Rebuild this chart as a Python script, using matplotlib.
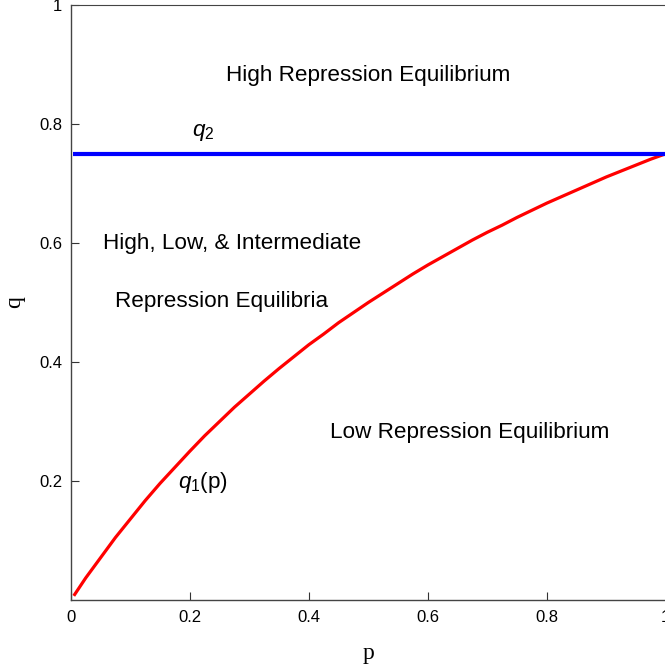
import numpy as np
import matplotlib.pyplot as plt

plt.rcParams['font.family'] = ['Liberation Sans', 'DejaVu Sans']
plt.rcParams['mathtext.fontset'] = 'custom'
plt.rcParams['mathtext.it'] = 'Liberation Sans:italic'
plt.rcParams['mathtext.rm'] = 'Liberation Sans'

# q1(p)
p_vals = [0.005, 0.025, 0.05, 0.075, 0.1, 0.125, 0.15, 0.175, 0.2, 0.225, 0.25,
          0.275, 0.3, 0.325, 0.35, 0.375, 0.4, 0.425, 0.45, 0.475, 0.5,
          0.525, 0.55, 0.575, 0.6, 0.625, 0.65, 0.675, 0.7, 0.725, 0.75,
          0.775, 0.8, 0.825, 0.85, 0.875, 0.9, 0.925, 0.95, 0.975, 1.0]
q1_vals = [0.007, 0.037, 0.071, 0.105, 0.136, 0.167, 0.196, 0.223, 0.25, 0.276, 0.30,
           0.324, 0.346, 0.368, 0.389, 0.409, 0.429, 0.447, 0.466, 0.483, 0.50,
           0.516, 0.532, 0.548, 0.563, 0.577, 0.591, 0.605, 0.618, 0.630, 0.643,
           0.655, 0.667, 0.678, 0.689, 0.700, 0.711, 0.721, 0.731, 0.741, 0.75]
q2_val = 0.75

x_ticks = [0, 0.2, 0.4, 0.6, 0.8, 1]
x_labels = ['0', '0.2', '0.4', '0.6', '0.8', '1']
y_ticks = [0.2, 0.4, 0.6, 0.8, 1]
y_labels = ['0.2', '0.4', '0.6', '0.8', '1']

fig = plt.figure(figsize=(6.65, 6.70), dpi=100)
ax = fig.add_axes([70.8 / 665, 70 / 670, 595 / 665, 595 / 670])

ax.plot(p_vals, q1_vals, color='#ff0000', lw=2.3, solid_capstyle='butt')
ax.plot([0.003, 1], [q2_val, q2_val], color='#0000ff', lw=3, solid_capstyle='butt')

ax.set_xlim(0, 1)
ax.set_ylim(0, 1)
ax.set_xticks(x_ticks, x_labels)
ax.set_yticks(y_ticks, y_labels)
ax.tick_params(direction='in', length=6, width=0.8, labelsize=12, colors='#333333',
               labelcolor='black')
ax.tick_params(axis='x', pad=7)
ax.tick_params(axis='y', pad=6)

for s in ['left', 'bottom']:
    ax.spines[s].set_color('#444444')
    ax.spines[s].set_linewidth(1.0)
ax.spines['top'].set_color('#444444')
ax.spines['top'].set_linewidth(0.8)
ax.spines['right'].set_visible(False)

ax.set_xlabel('p', family='Liberation Serif', fontsize=17, labelpad=13)
ax.set_ylabel('q', family='Liberation Serif', fontsize=17, labelpad=10)

fs = 16.2
ax.text(0.50, 0.882, 'High Repression Equilibrium', fontsize=fs, ha='center', va='center')
ax.text(0.222, 0.786, r'$q_2$', fontsize=fs, ha='center', va='center')
ax.text(0.054, 0.600, 'High, Low, & Intermediate', fontsize=fs, ha='left', va='center')
ax.text(0.074, 0.501, 'Repression Equilibria', fontsize=fs, ha='left', va='center')
ax.text(0.670, 0.282, 'Low Repression Equilibrium', fontsize=fs, ha='center', va='center')
ax.text(0.180, 0.198, r'$q_1$(p)', fontsize=fs, ha='left', va='center')

fig.savefig('out.png', dpi=100)
